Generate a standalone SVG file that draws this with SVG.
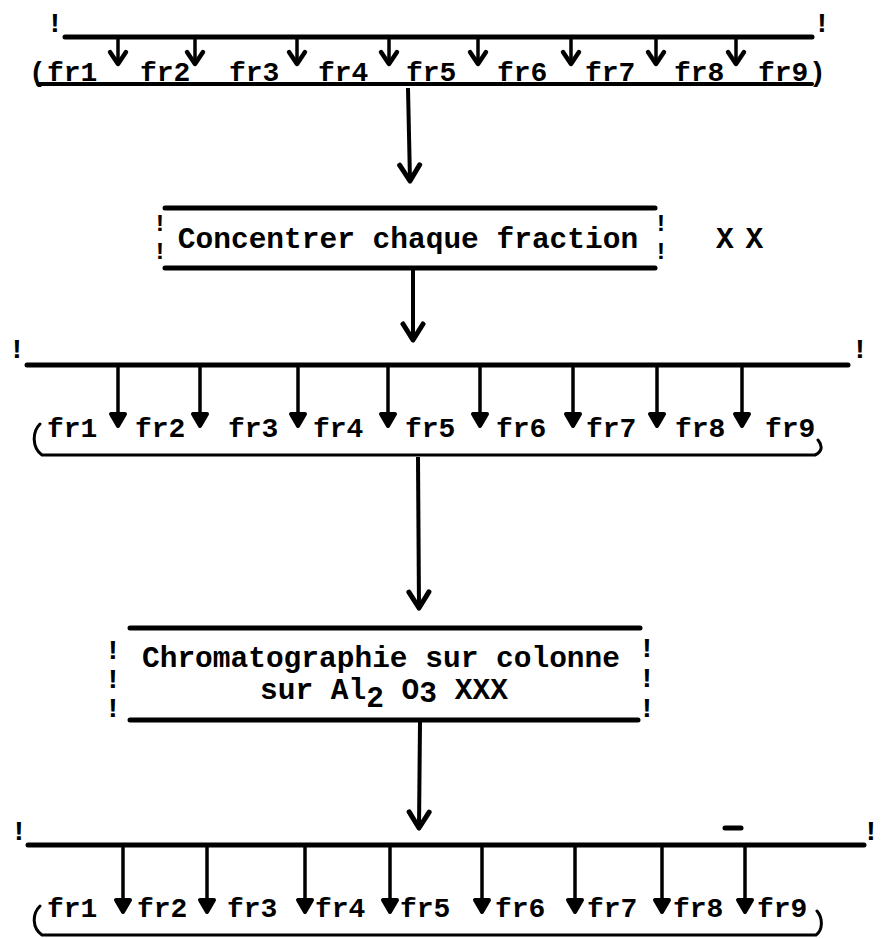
<svg xmlns="http://www.w3.org/2000/svg" width="881" height="938" viewBox="0 0 881 938">
<style>
text{font-family:"Liberation Mono","DejaVu Sans Mono",monospace;font-weight:bold;fill:#000}
.lb{font-size:28px}
.bx{font-size:29.5px}
.ex{font-size:28px;text-anchor:middle}
.hl{stroke:#000;stroke-width:5;stroke-linecap:round;fill:none}
.br{stroke:#000;stroke-width:3;stroke-linecap:round;fill:none}
.ar{stroke:#000;stroke-width:4;fill:none;marker-end:url(#ah)}
.sa{stroke:#000;stroke-width:3.5;fill:none;marker-end:url(#sh)}
.so{stroke:#000;stroke-width:3.5;fill:none;marker-end:url(#so)}
</style>
<defs>
<marker id="ah" markerUnits="userSpaceOnUse" markerWidth="40" markerHeight="40" viewBox="-20 -20 40 40" refX="0" refY="0" orient="auto" overflow="visible">
<path d="M-16,-10 L0,0 L-16,10" fill="none" stroke="#000" stroke-width="5" stroke-linejoin="round" stroke-linecap="round"/>
</marker>
<marker id="sh" markerUnits="userSpaceOnUse" markerWidth="30" markerHeight="30" viewBox="-15 -15 30 30" refX="0" refY="0" orient="auto" overflow="visible">
<path d="M-12,-7 L0,0 L-12,7 Z" fill="#000" stroke="#000" stroke-width="4" stroke-linejoin="round"/>
</marker>
<marker id="so" markerUnits="userSpaceOnUse" markerWidth="30" markerHeight="30" viewBox="-15 -15 30 30" refX="0" refY="0" orient="auto" overflow="visible">
<path d="M-12,-8 L0,0 L-12,8" fill="none" stroke="#000" stroke-width="4.5" stroke-linejoin="round" stroke-linecap="round"/>
</marker>
</defs>

<g id="row1">
<text class="ex" x="55" y="32">!</text>
<text class="ex" x="822" y="32">!</text>
<path class="hl" d="M65,37 H812"/>
<path class="hl" d="M38,84 H812" style="stroke-width:4"/>
<text class="lb" x="29" y="81">(</text>
<text class="lb" x="47" y="81">fr1</text>
<text class="lb" x="140" y="81">fr2</text>
<text class="lb" x="229" y="81">fr3</text>
<text class="lb" x="318" y="81">fr4</text>
<text class="lb" x="406" y="81">fr5</text>
<text class="lb" x="497" y="81">fr6</text>
<text class="lb" x="585" y="81">fr7</text>
<text class="lb" x="674" y="81">fr8</text>
<text class="lb" x="758" y="81">fr9</text>
<text class="lb" x="809" y="81">)</text>
</g>

<g id="box1">
<path class="hl" d="M165,208 H655"/>
<path class="hl" d="M165,268 H655"/>
<text class="ex" x="160" y="231" style="font-size:24px">!<tspan x="160" dy="28">!</tspan></text>
<text class="ex" x="661" y="231" style="font-size:24px">!<tspan x="661" dy="28">!</tspan></text>
<text class="bx" x="408" y="248" text-anchor="middle">Concentrer chaque fraction</text>
<text class="bx" x="716" y="248" letter-spacing="-3">X X</text>
</g>

<g id="row2">
<text class="ex" x="17" y="358">!</text>
<text class="ex" x="860" y="358">!</text>
<path class="hl" d="M27,365 H848"/>
<path class="br" d="M40,424 C32,432 32,448 42,455 H815 C822,452 823,446 818,440"/>
<text class="lb" x="47" y="437">fr1</text>
<text class="lb" x="135" y="437">fr2</text>
<text class="lb" x="228" y="437">fr3</text>
<text class="lb" x="313" y="437">fr4</text>
<text class="lb" x="405" y="437">fr5</text>
<text class="lb" x="496" y="437">fr6</text>
<text class="lb" x="586" y="437">fr7</text>
<text class="lb" x="675" y="437">fr8</text>
<text class="lb" x="765" y="437">fr9</text>
</g>

<g id="box2">
<path class="hl" d="M130,628 H640"/>
<path class="hl" d="M130,720 H638"/>
<text class="ex" x="113" y="659">!<tspan x="113" dy="29">!</tspan><tspan x="113" dy="29">!</tspan></text>
<text class="ex" x="647" y="657">!<tspan x="647" dy="30">!</tspan><tspan x="647" dy="30">!</tspan></text>
<text class="bx" x="381" y="667" text-anchor="middle">Chromatographie sur colonne</text>
<text class="bx" x="260" y="699">sur Al<tspan dy="8">2</tspan><tspan dy="-8"> O</tspan><tspan dy="3">3</tspan><tspan dy="-3"> XXX</tspan></text>
</g>

<g id="row3">
<text class="ex" x="19" y="840">!</text>
<text class="ex" x="871" y="840">!</text>
<path class="hl" d="M28,845 H864"/>
<path class="hl" d="M725,828 H741"/>
<path class="br" d="M40,906 C32,914 32,928 42,935 H816 C823,930 823,918 817,911"/>
<text class="lb" x="47" y="917">fr1</text>
<text class="lb" x="137" y="917">fr2</text>
<text class="lb" x="227" y="917">fr3</text>
<text class="lb" x="315" y="917">fr4</text>
<text class="lb" x="400" y="917">fr5</text>
<text class="lb" x="495" y="917">fr6</text>
<text class="lb" x="587" y="917">fr7</text>
<text class="lb" x="673" y="917">fr8</text>
<text class="lb" x="757" y="917">fr9</text>
</g>

<g id="connectors">
<path class="ar" d="M408,88 L410,181"/>
<path class="ar" d="M413,270 L413,340"/>
<path class="ar" d="M418,457 L419,608"/>
<path class="ar" d="M420,722 L419,828"/>
<path class="so" d="M118,39 V64"/>
<path class="so" d="M195,39 V64"/>
<path class="so" d="M297,39 V64"/>
<path class="so" d="M389,39 V64"/>
<path class="so" d="M478,39 V64"/>
<path class="so" d="M571,39 V64"/>
<path class="so" d="M656,39 V64"/>
<path class="so" d="M736,39 V64"/>
<path class="sa" d="M118,367 V426"/>
<path class="sa" d="M200,367 V426"/>
<path class="sa" d="M298,367 V426"/>
<path class="sa" d="M388,367 V426"/>
<path class="sa" d="M480,367 V426"/>
<path class="sa" d="M573,367 V426"/>
<path class="sa" d="M657,367 V426"/>
<path class="sa" d="M742,367 V426"/>
<path class="sa" d="M123,847 V912"/>
<path class="sa" d="M207,847 V912"/>
<path class="sa" d="M305,847 V912"/>
<path class="sa" d="M390,847 V912"/>
<path class="sa" d="M482,847 V912"/>
<path class="sa" d="M575,847 V912"/>
<path class="sa" d="M662,847 V912"/>
<path class="sa" d="M745,847 V912"/>
</g>
</svg>
